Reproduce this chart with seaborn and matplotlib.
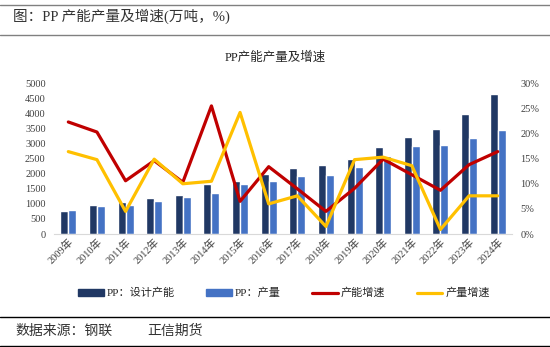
import numpy as np
import pandas as pd
import matplotlib
matplotlib.use("Agg")
import matplotlib.pyplot as plt
import seaborn as sns
from matplotlib.lines import Line2D
from matplotlib.patches import Patch

sns.set_style("white")
plt.rcParams['font.family'] = ['Liberation Serif', 'Noto Sans CJK SC', 'DejaVu Sans']

years = ["2009年", "2010年", "2011年", "2012年", "2013年", "2014年", "2015年", "2016年",
         "2017年", "2018年", "2019年", "2020年", "2021年", "2022年", "2023年", "2024年"]
capacity = [775, 970, 1060, 1200, 1300, 1665, 1765, 2000,
            2185, 2295, 2495, 2880, 3210, 3485, 3980, 4645]
output = [805, 940, 970, 1100, 1235, 1370, 1665, 1765,
          1930, 1955, 2230, 2590, 2925, 2955, 3190, 3440]
cap_growth = [22.3, 20.3, 10.6, 14.6, 10.3, 25.5, 6.5, 13.4,
              9.0, 4.5, 9.1, 14.9, 11.8, 8.7, 13.8, 16.4]
out_growth = [16.4, 14.8, 4.5, 14.9, 10.0, 10.5, 24.2, 6.0,
              7.6, 1.5, 14.8, 15.3, 13.6, 0.9, 7.6, 7.6]

s1, s2, s3, s4 = "PP：设计产能", "PP：产量", "产能增速", "产量增速"
c1, c2, c3, c4 = "#203864", "#4472C4", "#C00000", "#FFC000"

df = pd.DataFrame({"year": years * 2,
                   "value": capacity + output,
                   "series": [s1] * len(years) + [s2] * len(years)})

fig = plt.figure(figsize=(5.5, 3.47), dpi=100)
ax = fig.add_axes([54 / 550, 1 - 234 / 347, 458 / 550, (234 - 83.3) / 347])
sns.barplot(data=df, x="year", y="value", hue="series", palette=[c1, c2],
            width=0.56, ax=ax, legend=False, saturation=1)
ax.set_ylim(0, 5000)
ax.set_yticks(range(0, 5001, 500))
ax.set_xlim(-0.5, len(years) - 0.5)
ax.set_xlabel("")
ax.set_ylabel("")
for sp in ["left", "right", "top"]:
    ax.spines[sp].set_visible(False)
ax.spines["bottom"].set_color("#D9D9D9")
ax.tick_params(axis="y", length=0, pad=6, labelsize=7.5)
ax.tick_params(axis="x", length=0, pad=2, labelsize=7.5)
for lab in ax.get_xticklabels():
    lab.set_rotation(45)
    lab.set_ha("right")
    lab.set_rotation_mode("anchor")
    lab.set_color("#404040")
for lab in ax.get_yticklabels():
    lab.set_color("#404040")

ax2 = ax.twinx()
xs = np.arange(len(years))
sns.lineplot(x=xs, y=cap_growth, ax=ax2, color=c3, linewidth=2.3)
sns.lineplot(x=xs, y=out_growth, ax=ax2, color=c4, linewidth=2.3)
ax2.set_ylim(0, 30)
ax2.set_yticks(range(0, 31, 5))
ax2.set_yticklabels([f"{v}%" for v in range(0, 31, 5)])
ax2.tick_params(axis="y", length=0, pad=6, labelsize=7.5)
for lab in ax2.get_yticklabels():
    lab.set_color("#404040")
for sp in ["left", "right", "top", "bottom"]:
    ax2.spines[sp].set_visible(False)
ax.set_xlim(-0.5, len(years) - 0.5)

fig.text(0.5, 1 - 58 / 347, "PP产能产量及增速", ha="center", va="center", fontsize=9)
fig.text(13 / 550, 1 - 16 / 347, "图：PP 产能产量及增速(万吨，%)", ha="left", va="center",
         fontsize=10.5, color="#333333")
fig.add_artist(Line2D([0, 1], [1 - 5 / 347] * 2, color="#808080", lw=1))
fig.add_artist(Line2D([0, 1], [1 - 35 / 347] * 2, color="#808080", lw=1))
fig.add_artist(Line2D([0, 1], [1 - 316.5 / 347] * 2, color="#000000", lw=1))
fig.add_artist(Line2D([0, 1], [1 - 346 / 347] * 2, color="#000000", lw=1))
fig.text(15 / 550, 1 - 331 / 347, "数据来源：钢联", ha="left", va="center",
         fontsize=10, color="#333333")
fig.text(147 / 550, 1 - 331 / 347, "正信期货", ha="left", va="center",
         fontsize=10, color="#333333")

handles = [Patch(color=c1), Patch(color=c2),
           Line2D([], [], color=c3, lw=2.3), Line2D([], [], color=c4, lw=2.3)]
fig.legend(handles, [s1, s2, s3, s4], loc="center left", bbox_to_anchor=(68 / 550, 1 - 293 / 347),
           ncol=4, frameon=False, fontsize=8, handlelength=2.3, handleheight=0.6,
           columnspacing=2.8, handletextpad=0.3)

fig.savefig("out.png", dpi=100)
